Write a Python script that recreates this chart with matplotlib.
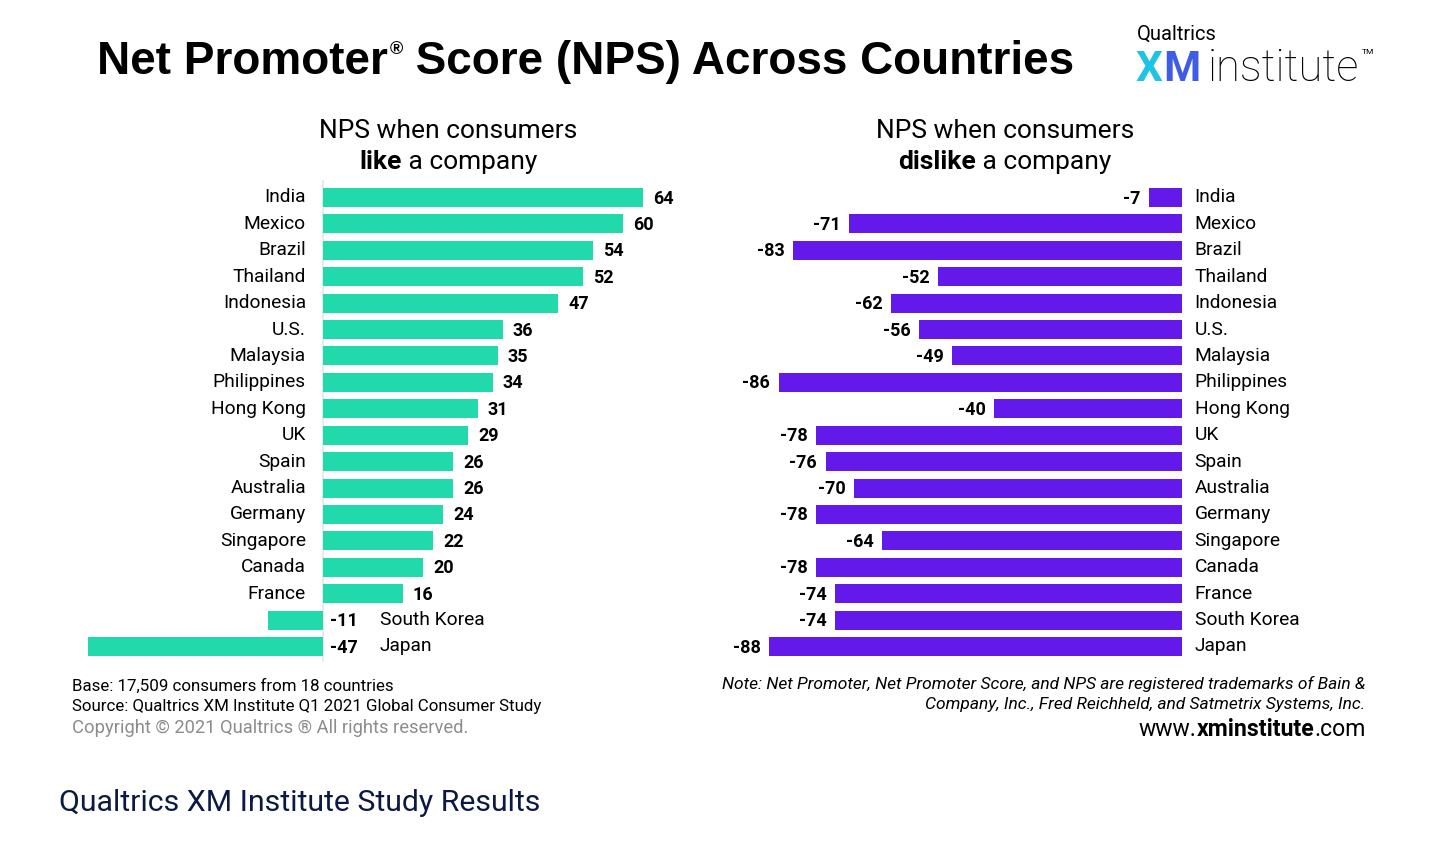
import matplotlib
matplotlib.use("Agg")
import matplotlib.pyplot as plt
import numpy as np

# data
like_countries = ["India", "Mexico", "Brazil", "Thailand", "Indonesia", "U.S.", "Malaysia",
                  "Philippines", "Hong Kong", "UK", "Spain", "Australia", "Germany",
                  "Singapore", "Canada", "France", "South Korea", "Japan"]
like_nps = [64, 60, 54, 52, 47, 36, 35, 34, 31, 29, 26, 26, 24, 22, 20, 16, -11, -47]

dislike_countries = like_countries
dislike_nps = [-7, -71, -83, -52, -62, -56, -49, -86, -40, -78, -76, -70, -78, -64, -78,
               -74, -74, -88]

TEAL = "#22D9AB"
PURPLE = "#6219EA"
FONT = "Roboto"

plt.rcParams["font.family"] = [FONT, "DejaVu Sans"]

fig = plt.figure(figsize=(14.56, 8.48), dpi=100)
W, H = 1456, 848


def fx(px):
    return px / W


def fy(py):
    return 1 - py / H


# axes placed so that row i sits at pixel y = 197.5 + 26.41*i
row0, step = 197.5, 26.41
top_px, bot_px = 180, 662
ylim = ((bot_px - row0) / step, (top_px - row0) / step)

# left panel: zero at x=323, 5 px per point
axL = fig.add_axes([fx(80), fy(bot_px), fx(620), (bot_px - top_px) / H])
axL.set_xlim((80 - 323) / 5, (700 - 323) / 5)
axL.set_ylim(*ylim)
yL = np.arange(len(like_countries))
axL.barh(yL, like_nps, height=0.72, color=TEAL)
axL.axvline(0, color="#E6E6E6", lw=1.2, zorder=0)
for i, (c, v) in enumerate(zip(like_countries, like_nps)):
    if v >= 0:
        axL.text(v + 2, i + 0.04, str(v), ha="left", va="center", fontsize=13,
                 fontweight="bold")
        axL.text(-3.4, i, c, ha="right", va="center", fontsize=13.8)
    else:
        axL.text(1.4, i + 0.04, str(v), ha="left", va="center", fontsize=13,
                 fontweight="bold")
        axL.text(11.4, i, c, ha="left", va="center", fontsize=13.8)
axL.axis("off")

# right panel: zero at x=1182, 4.69 px per point
sR = 4.69
axR = fig.add_axes([fx(700), fy(bot_px), fx(640), (bot_px - top_px) / H])
axR.set_xlim((700 - 1182) / sR, (1340 - 1182) / sR)
axR.set_ylim(*ylim)
yR = np.arange(len(dislike_countries))
axR.barh(yR, dislike_nps, height=0.72, color=PURPLE)
for i, (c, v) in enumerate(zip(dislike_countries, dislike_nps)):
    axR.text(v - 1.8, i + 0.04, str(v), ha="right", va="center", fontsize=13,
             fontweight="bold")
    axR.text(2.7, i, c, ha="left", va="center", fontsize=13.8)
axR.axis("off")

renderer = fig.canvas.get_renderer()


def runs_text(x, y, runs, ha="center", va="baseline"):
    # place several differently styled pieces side by side
    arts = []
    for s, kw in runs:
        t = fig.text(0, y, s, va=va, **kw)
        arts.append(t)
    widths = [a.get_window_extent(renderer).width for a in arts]
    total = sum(widths)
    start = x * W - (total / 2 if ha == "center" else (total if ha == "right" else 0))
    for a, w in zip(arts, widths):
        a.set_x(start / W)
        start += w
    return arts


# title with raised registered mark
tkw = dict(fontsize=33, fontweight="bold", family=["Liberation Sans", "DejaVu Sans"])
t1 = fig.text(0, fy(74), "Net Promoter", **tkw)
t2 = fig.text(0, fy(54), "\u00ae", fontsize=13, fontweight="bold",
              family=["Liberation Sans", "DejaVu Sans"])
t3 = fig.text(0, fy(74), " Score (NPS) Across Countries", **tkw)
w1 = t1.get_window_extent(renderer).width
w2 = t2.get_window_extent(renderer).width
x0 = 97
t1.set_x(fx(x0))
t2.set_x(fx(x0 + w1 + 2))
t3.set_x(fx(x0 + w1 + w2 + 2))

# subtitles
fig.text(fx(448), fy(138), "NPS when consumers", ha="center", fontsize=19)
runs_text(fx(448), fy(169), [("like", dict(fontsize=19, fontweight="bold")),
                             (" a company", dict(fontsize=19))])
fig.text(fx(1005), fy(138), "NPS when consumers", ha="center", fontsize=19)
runs_text(fx(1005), fy(169), [("dislike", dict(fontsize=19, fontweight="bold")),
                              (" a company", dict(fontsize=19))])

# logo
fig.text(fx(1137), fy(40), "Qualtrics", fontsize=14.5)
lx = fig.text(fx(1136), fy(81), "X", fontsize=30.5, fontweight="bold", color="#1EC4E4")
wx = lx.get_window_extent(renderer).width
lm = fig.text(fx(1136) + wx / W, fy(81), "M", fontsize=30.5, fontweight="bold",
              color="#3F5CE6")
wm = lm.get_window_extent(renderer).width
fig.text(fx(1136) + (wx + wm + 7) / W, fy(81), "institute", fontsize=31.5,
         fontweight="light")
fig.text(fx(1362), fy(54), "TM", fontsize=6)

# footnotes
fig.text(fx(72), fy(691), "Base: 17,509 consumers from 18 countries", fontsize=12.2)
fig.text(fx(72), fy(711), "Source: Qualtrics XM Institute Q1 2021 Global Consumer Study",
         fontsize=12.2)
fig.text(fx(72), fy(733), "Copyright \u00a9 2021 Qualtrics \u00ae All rights reserved.",
         fontsize=13.2, color="#8C8C8C")

fig.text(fx(1365), fy(689), "Note: Net Promoter, Net Promoter Score, and NPS are "
         "registered trademarks of Bain &", ha="right", fontsize=12.5, style="italic")
fig.text(fx(1365), fy(709), "Company, Inc., Fred Reichheld, and Satmetrix Systems, Inc.",
         ha="right", fontsize=12.5, style="italic")
runs_text(fx(1366), fy(736), [("www.", dict(fontsize=16.6)),
                              ("xminstitute", dict(fontsize=16.6, fontweight="bold")),
                              (".com", dict(fontsize=16.6))], ha="right")

fig.text(fx(59), fy(811), "Qualtrics XM Institute Study Results", fontsize=21.8,
         color="#0B1A45")

fig.savefig("out.png", dpi=100, facecolor="white")
